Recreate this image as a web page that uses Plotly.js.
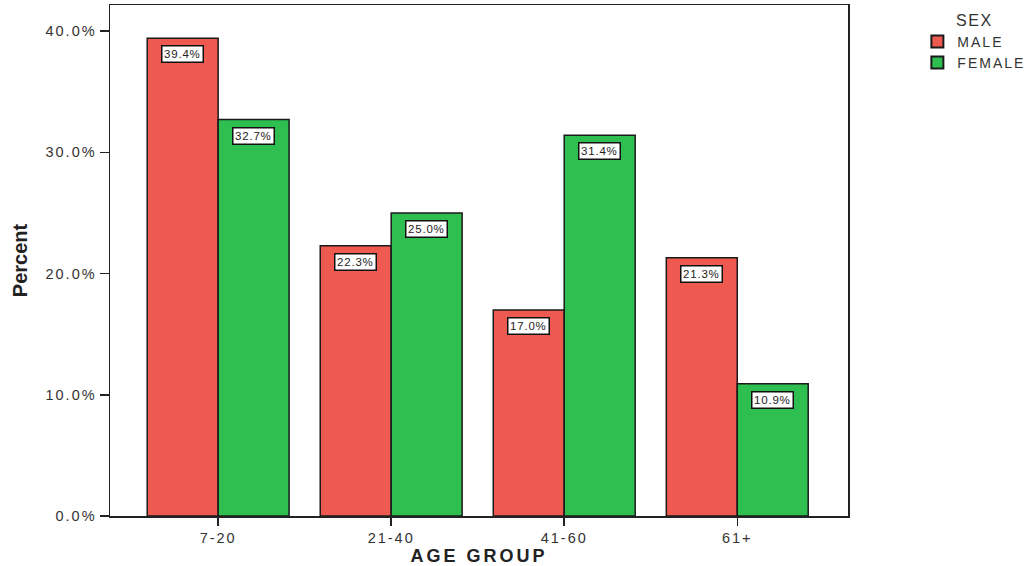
<!DOCTYPE html>
<html>
<head>
<meta charset="utf-8">
<script src="https://cdn.plot.ly/plotly-3.0.1.min.js"></script>
<style>
html,body{margin:0;padding:0;background:#fff;}
#chart{width:1036px;height:566px;}
.xtick text, .ytick text {letter-spacing: 2px;}
.legendtext {letter-spacing: 2px;}
.legendtitletext {letter-spacing: 1.5px;}
.xtitle {letter-spacing: 3px;}
.annotation-text {letter-spacing: 0.8px;}
</style>
</head>
<body>
<div id="chart"></div>
<script>
const categories = ['7-20', '21-40', '41-60', '61+'];
const maleValues = [39.4, 22.3, 17.0, 21.3];
const femaleValues = [32.7, 25.0, 31.4, 10.9];
const seriesNames = ['MALE', 'FEMALE'];
const yTickVals = [0, 10, 20, 30, 40];
const yTickText = ['0.0%', '10.0%', '20.0%', '30.0%', '40.0%'];

const colors = ['#EE5A50', '#2EBF50'];
const series = [maleValues, femaleValues];
const FONT = 'Liberation Sans, Arial, Helvetica, sans-serif';

const traces = series.map((vals, k) => ({
  type: 'bar',
  name: seriesNames[k],
  x: categories,
  y: vals,
  marker: {color: colors[k], line: {color: '#1a1a1a', width: 1.5}},
  hoverinfo: 'x+y'
}));

const offsets = [-0.205, 0.205];
const annotations = [];
series.forEach((vals, k) => {
  vals.forEach((v, i) => {
    annotations.push({
      x: i + offsets[k], y: v, xref: 'x', yref: 'y',
      text: v.toFixed(1) + '%',
      showarrow: false, yanchor: 'top', yshift: -7,
      bgcolor: '#ffffff', bordercolor: '#111111', borderwidth: 1.5, borderpad: 1.5,
      font: {family: FONT, size: 11.5, color: '#222'}
    });
  });
});

const layout = {
  width: 1036, height: 566,
  margin: {l: 110, r: 188, t: 5, b: 50},
  paper_bgcolor: '#ffffff', plot_bgcolor: '#ffffff',
  barmode: 'group', bargap: 0.18, bargroupgap: 0,
  showlegend: true,
  legend: {
    x: 1.094, y: 1.0, xanchor: 'left', yanchor: 'top',
    title: {text: 'SEX', side: 'top center', font: {family: FONT, size: 16, color: '#333'}},
    font: {family: FONT, size: 14, color: '#333'},
    itemsizing: 'constant', tracegroupgap: 0, itemwidth: 30
  },
  xaxis: {
    type: 'category',
    range: [-0.625, 3.64],
    showline: true, linecolor: '#222', linewidth: 1.5, mirror: true,
    ticks: 'outside', ticklen: 8, tickcolor: '#222', tickwidth: 1.5,
    showgrid: false, zeroline: false,
    tickfont: {family: FONT, size: 14.5, color: '#333'},
    title: {text: 'AGE GROUP', standoff: 3, font: {family: FONT, size: 18, color: '#222', weight: 'bold'}}
  },
  yaxis: {
    range: [0, 42.15],
    tickvals: yTickVals, ticktext: yTickText,
    showline: true, linecolor: '#222', linewidth: 1.5, mirror: true,
    ticks: 'outside', ticklen: 9, tickcolor: '#222', tickwidth: 1.5,
    showgrid: false, zeroline: false,
    tickfont: {family: FONT, size: 14.5, color: '#333'},
    title: {text: 'Percent', standoff: 12, font: {family: FONT, size: 20, color: '#222', weight: 'bold'}}
  },
  annotations: annotations
};

Plotly.newPlot('chart', traces, layout, {displayModeBar: false, staticPlot: true});
</script>
</body>
</html>
